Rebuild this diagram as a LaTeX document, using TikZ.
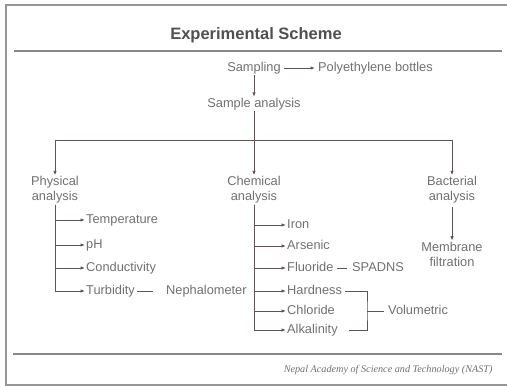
\documentclass[tikz,border=0pt]{standalone}
\usepackage{fontspec}
\setmainfont{Liberation Sans}
\newfontfamily\footserif{Liberation Serif}
\usepackage{xcolor}
\usepackage{tikz}
\usetikzlibrary{arrows.meta,positioning}
\definecolor{txtgray}{RGB}{112,112,112}
\definecolor{titlegray}{RGB}{80,80,80}
\definecolor{lngray}{RGB}{95,84,84}
\definecolor{rulegray}{RGB}{135,135,140}
\definecolor{framegray}{RGB}{150,150,150}

\begin{document}
\begin{tikzpicture}[x=1pt, y=1pt,
      txt/.style={font=\fontsize{12.8}{15}\selectfont, text=txtgray,
                  inner sep=1pt, align=center},
      item/.style={txt, anchor=west, text height=9pt, text depth=2.5pt},
      arr/.style={-{Latex[length=4.5pt,width=3.5pt]}, line width=0.9pt, draw=lngray},
      ln/.style={line width=0.9pt, draw=lngray},
      rule/.style={line width=1.8pt, draw=rulegray}
  ]
    \useasboundingbox (0,0) rectangle (507,-386);
    \draw[line width=1.2pt, draw=framegray] (507,-5) -- (6,-5) -- (6,-385) -- (507,-385);
    \draw[rule] (14,-51) -- (502,-51);
    \draw[rule] (13,-354) -- (502,-354);

    \node[font=\fontsize{16.5}{18}\selectfont\bfseries, text=titlegray] (title) at (256,-35) {Experimental Scheme};

    \node[txt] (samp) at (254,-68) {Sampling};
    \node[item] (poly) at (317,-68) {Polyethylene bottles};
    \node[txt] (sa) at (254,-104) {Sample analysis};
    \coordinate (bus) at (254,-140);
    \node[txt] (phys) at (55,-190) {Physical\\ analysis};
    \node[txt] (chem) at (254,-190) {Chemical\\ analysis};
    \node[txt] (bact) at (452,-190) {Bacterial\\ analysis};
    \node[txt] (memb) at (452,-254) {Membrane\\ filtration};

    \draw[arr, shorten <=2pt, shorten >=2pt] (samp) -- (poly);
    \draw[arr] (samp) -- (sa);
    \draw[arr] (sa) -- (chem);
    \draw[arr] (bus) -| (phys);
    \draw[arr] (bus) -| (bact);
    \draw[arr, shorten <=2pt] (bact) -- (memb);

    \foreach \n/\t/\y in {temp/Temperature/220, ph/pH/245, cond/Conductivity/268, turb/Turbidity/291} {
      \node[item] (\n) at (85,-\y) {\t};
      \draw[arr] (phys.south) |- (\n.west);
    }
    \node[item] (neph) at (165,-291) {Nephalometer};
    \draw[ln, shorten <=1pt, shorten >=12pt] (turb) -- (neph);

    \foreach \n/\t/\y in {iron/Iron/225, ars/Arsenic/246, fluo/Fluoride/268, hard/Hardness/291, chlo/Chloride/311, alk/Alkalinity/330} {
      \node[item] (\n) at (286,-\y) {\t};
      \draw[arr] (chem.south) |- (\n.west);
    }
    \node[item] (spad) at (351,-268) {SPADNS};
    \draw[ln, shorten <=2pt, shorten >=4pt] (fluo) -- (spad);

    \coordinate (vb) at (367,-311);
    \node[item] (vol) at (387,-311) {Volumetric};
    \draw[ln] ([xshift=2pt]hard.east) -| (vb) |- ([xshift=10pt]alk.east);
    \draw[ln, shorten >=3pt] (vb) -- (vol);

    \node[font=\footserif\itshape\fontsize{10.2}{12}\selectfont, text=txtgray, anchor=east] (foot) at (496,-370) {Nepal Academy of Science and Technology (NAST)};
  \end{tikzpicture}
\end{document}
